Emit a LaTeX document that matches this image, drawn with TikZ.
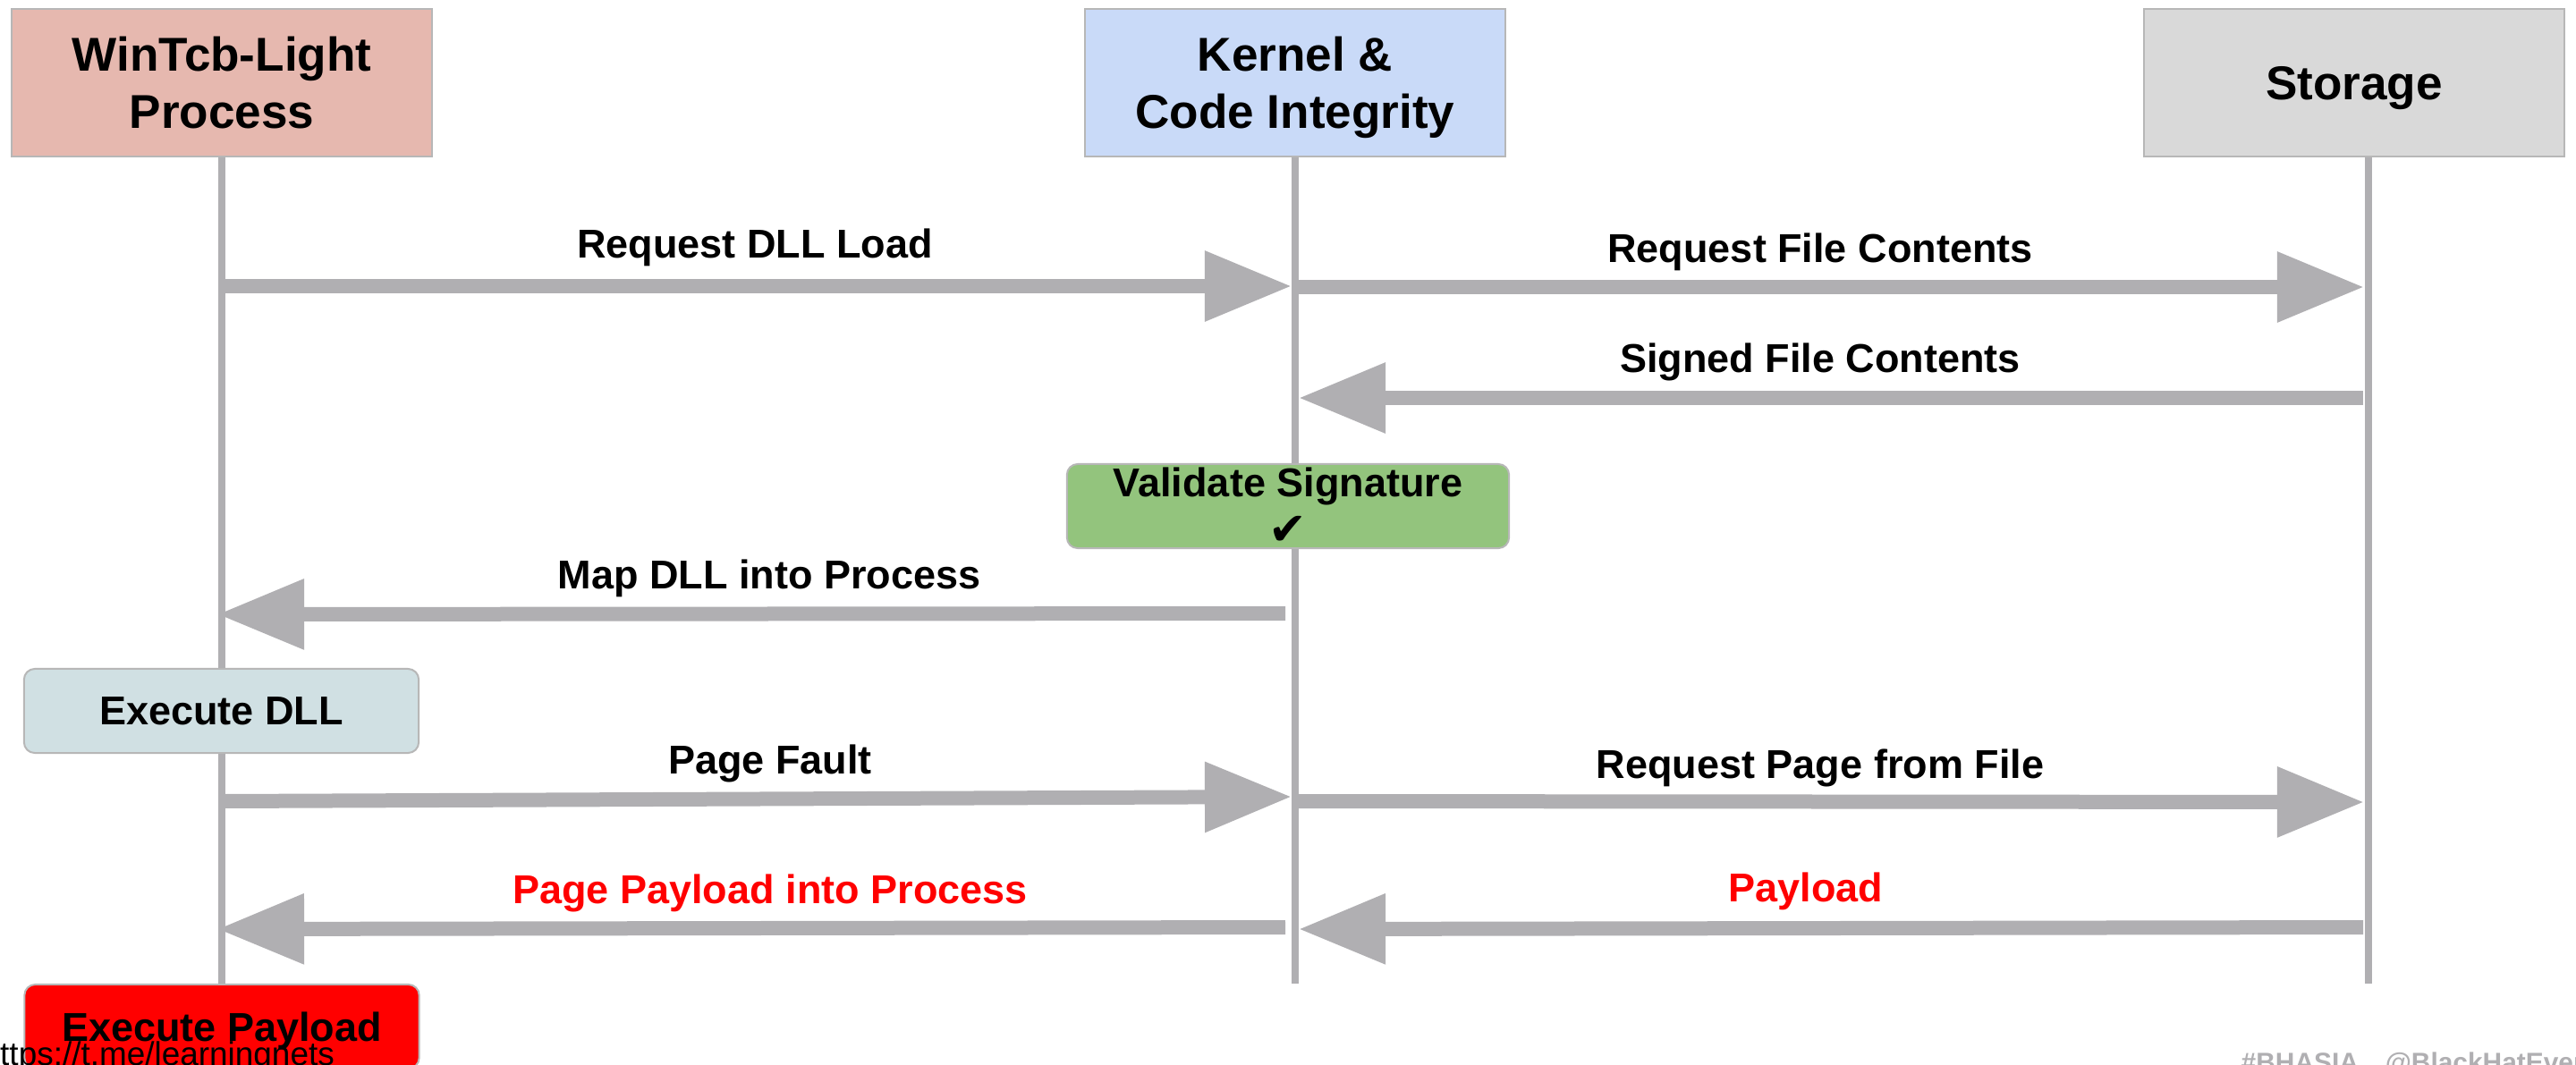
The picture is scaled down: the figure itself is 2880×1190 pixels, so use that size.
\documentclass[tikz,border=0pt]{standalone}
\usepackage{fontspec}
\setmainfont{Liberation Sans}
\newfontfamily\symfont{DejaVu Sans}
\usetikzlibrary{arrows.meta}

\definecolor{procred}{HTML}{E6B8AF}
\definecolor{kernblue}{HTML}{C9DAF8}
\definecolor{storgray}{HTML}{D9D9D9}
\definecolor{validgreen}{HTML}{93C47D}
\definecolor{execblue}{HTML}{D0E0E3}
\definecolor{arrowgray}{HTML}{B0AFB2}
\definecolor{boxedge}{HTML}{B7B7B7}

\tikzset{
  head/.style={draw=boxedge, line width=0.57pt, minimum width=4.7cm, minimum height=1.65cm,
    align=center, text depth=0pt, font=\fontsize{15.1}{18.2}\selectfont\bfseries},
  actbox/.style={draw=boxedge, line width=0.57pt, rounded corners=3.4pt, minimum width=4.41cm,
    minimum height=0.94cm, align=center, text depth=0pt, font=\fontsize{12.8}{15}\selectfont\bfseries},
  life/.style={arrowgray, line width=2.3pt},
  msg/.style={arrowgray, line width=4.55pt, -{Triangle[length=0.97cm,width=0.75cm]}},
  lbl/.style={anchor=base, font=\fontsize{12.8}{15}\selectfont\bfseries},
}

\begin{document}
\begin{tikzpicture}[x=0.01cm,y=-0.01cm]
  \useasboundingbox (0,0) rectangle (2880,1190);
  \clip (0,0) rectangle (2880,1190);

  % lanes
  \node[head, fill=procred] (proc) at (248,92.5) {WinTcb-Light\\Process};
  \node[head, fill=kernblue] (kern) at (1448,92.5) {Kernel \&\\Code Integrity};
  \node[head, fill=storgray] (stor) at (2632,92.5) {Storage};
  \coordinate (procEnd) at (248,1101);
  \coordinate (kernEnd) at (1448,1100);
  \coordinate (storEnd) at (2648,1100);
  \draw[life] (proc.south) -- (procEnd);
  \draw[life] (kern.south) -- (kernEnd);
  \draw[life] (stor.south -| storEnd) -- (storEnd);

  % steps on the lanes
  \node[actbox, fill=validgreen, minimum width=4.94cm, inner ysep=0.03cm,
    font=\fontsize{12.8}{15.2}\selectfont\bfseries] (valid) at (1440,566)
    {Validate Signature\\{\symfont\fontsize{14.5}{15.2}\selectfont ✔}};
  \node[actbox, fill=execblue] (execDll) at (247.5,795) {Execute DLL};
  \node[actbox, fill=red] (execPay) at (248,1148) {Execute Payload};

  % message ends
  \coordinate (reqDllA) at (248,320);   \coordinate (reqDllB) at (1444,320);
  \coordinate (reqFileA) at (1448,321); \coordinate (reqFileB) at (2643,321);
  \coordinate (signedA) at (2642,445);  \coordinate (signedB) at (1452,445);
  \coordinate (mapA) at (1437,686);     \coordinate (mapB) at (243,687);
  \coordinate (faultA) at (248,896);    \coordinate (faultB) at (1444,891);
  \coordinate (reqPageA) at (1448,896); \coordinate (reqPageB) at (2643,897);
  \coordinate (pagePayA) at (1437,1037); \coordinate (pagePayB) at (243,1039);
  \coordinate (payA) at (2642,1037);    \coordinate (payB) at (1452,1039);

  % messages
  \draw[msg] (reqDllA) -- (reqDllB);
  \draw[msg] (reqFileA) -- (reqFileB);
  \draw[msg] (signedA) -- (signedB);
  \draw[msg] (mapA) -- (mapB);
  \draw[msg] (faultA) -- (faultB);
  \draw[msg] (reqPageA) -- (reqPageB);
  \draw[msg] (pagePayA) -- (pagePayB);
  \draw[msg] (payA) -- (payB);

  \node[lbl] (reqDllLbl) at (844,288) {Request DLL Load};
  \node[lbl] (reqFileLbl) at (2035,293) {Request File Contents};
  \node[lbl] (signedLbl) at (2035,416) {Signed File Contents};
  \node[lbl] (mapLbl) at (860,658) {Map DLL into Process};
  \node[lbl] (faultLbl) at (861,865) {Page Fault};
  \node[lbl] (reqPageLbl) at (2035,870) {Request Page from File};
  \node[lbl, text=red] (pagePayLbl) at (861,1010) {Page Payload into Process};
  \node[lbl, text=red] (payLbl) at (2019,1008) {Payload};

  % slide footer
  \node[anchor=base west, inner sep=0, font=\fontsize{10.5}{12}\selectfont] (url) at (-21,1191) {https://t.me/learningnets};
  \node[anchor=base west, inner sep=0, text=arrowgray, font=\fontsize{8.5}{10}\selectfont\bfseries] (tag) at (2505,1198) {\#BHASIA\quad @BlackHatEvents};
\end{tikzpicture}
\end{document}
